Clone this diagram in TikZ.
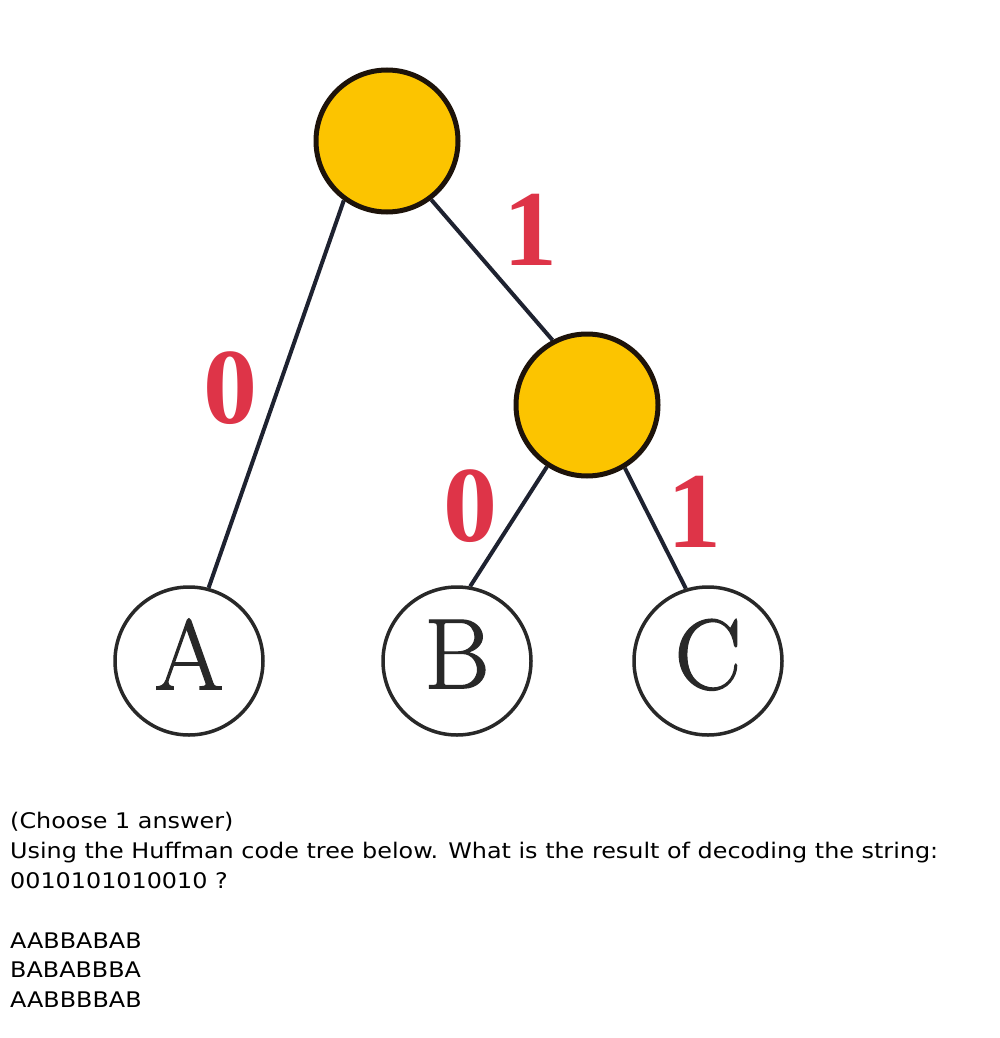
\documentclass[tikz,border=0pt]{standalone}
\usepackage{fontspec}
\usetikzlibrary{backgrounds}
\newfontfamily\qfont[FakeStretch=1.11]{DejaVu Sans}
\newfontfamily\digitfont{Liberation Serif}
\newfontfamily\leaffont[FakeBold=1.2]{Latin Modern Roman}
\definecolor{nodegold}{RGB}{252,196,0}
\definecolor{edgecol}{RGB}{30,34,48}
\definecolor{labred}{RGB}{222,52,72}
\definecolor{leafcol}{RGB}{40,40,40}
\tikzset{
  inner/.style={circle,draw=black!85!brown,line width=5pt,fill=nodegold,minimum size=142pt,inner sep=0pt},
  leaf/.style={circle,draw=leafcol,line width=3.5pt,fill=white,minimum size=148pt,inner sep=0pt,
    font=\leaffont\fontsize{100}{100}\selectfont,text=leafcol},
  edge/.style={draw=edgecol,line width=4pt},
  bit/.style={text=labred,font=\digitfont\bfseries\fontsize{108}{108}\selectfont,inner sep=0pt},
  qtext/.style={anchor=base west,inner sep=0pt,font=\qfont\fontsize{21.5}{26}\selectfont}
}
\begin{document}
\begin{tikzpicture}[x=1pt,y=-1pt]
\useasboundingbox (0,0) rectangle (1000,1038);
% nodes
\node[inner] (root) at (387,141) {};
\node[inner] (mid) at (587,405) {};
\node[leaf] (A) at (189,661) {\raisebox{14pt}{A}};
\node[leaf] (B) at (457,661) {\raisebox{14pt}{B}};
\node[leaf] (C) at (708,661) {\raisebox{14pt}{C}};
% edges
\begin{scope}[on background layer]
\fill[white] (0,0) rectangle (1000,1038);
\path[edge] (root.234.5) -- (A.75);
\path[edge] (root.307) -- (mid.118.5);
\path[edge] (mid.237) -- (B.80);
\path[edge] (mid.301) -- (C.107);
\end{scope}
% labels
\node[bit] (l1) at (530,230) {1};
\node[bit] (l2) at (230,388) {0};
\node[bit] (l3) at (470,506) {0};
\node[bit] (l4) at (694,512) {1};
% question text
\node[qtext] (t1) at (10,828) {(Choose 1 answer)};
\node[qtext] (t2) at (10,858) {Using the Huffman code tree below. What is the result of decoding the string:};
\node[qtext] (t3) at (10,888) {0010101010010 ?};
\node[qtext] (o1) at (10,948) {AABBABAB};
\node[qtext] (o2) at (10,977) {BABABBBA};
\node[qtext] (o3) at (10,1007) {AABBBBAB};
\end{tikzpicture}
\end{document}
